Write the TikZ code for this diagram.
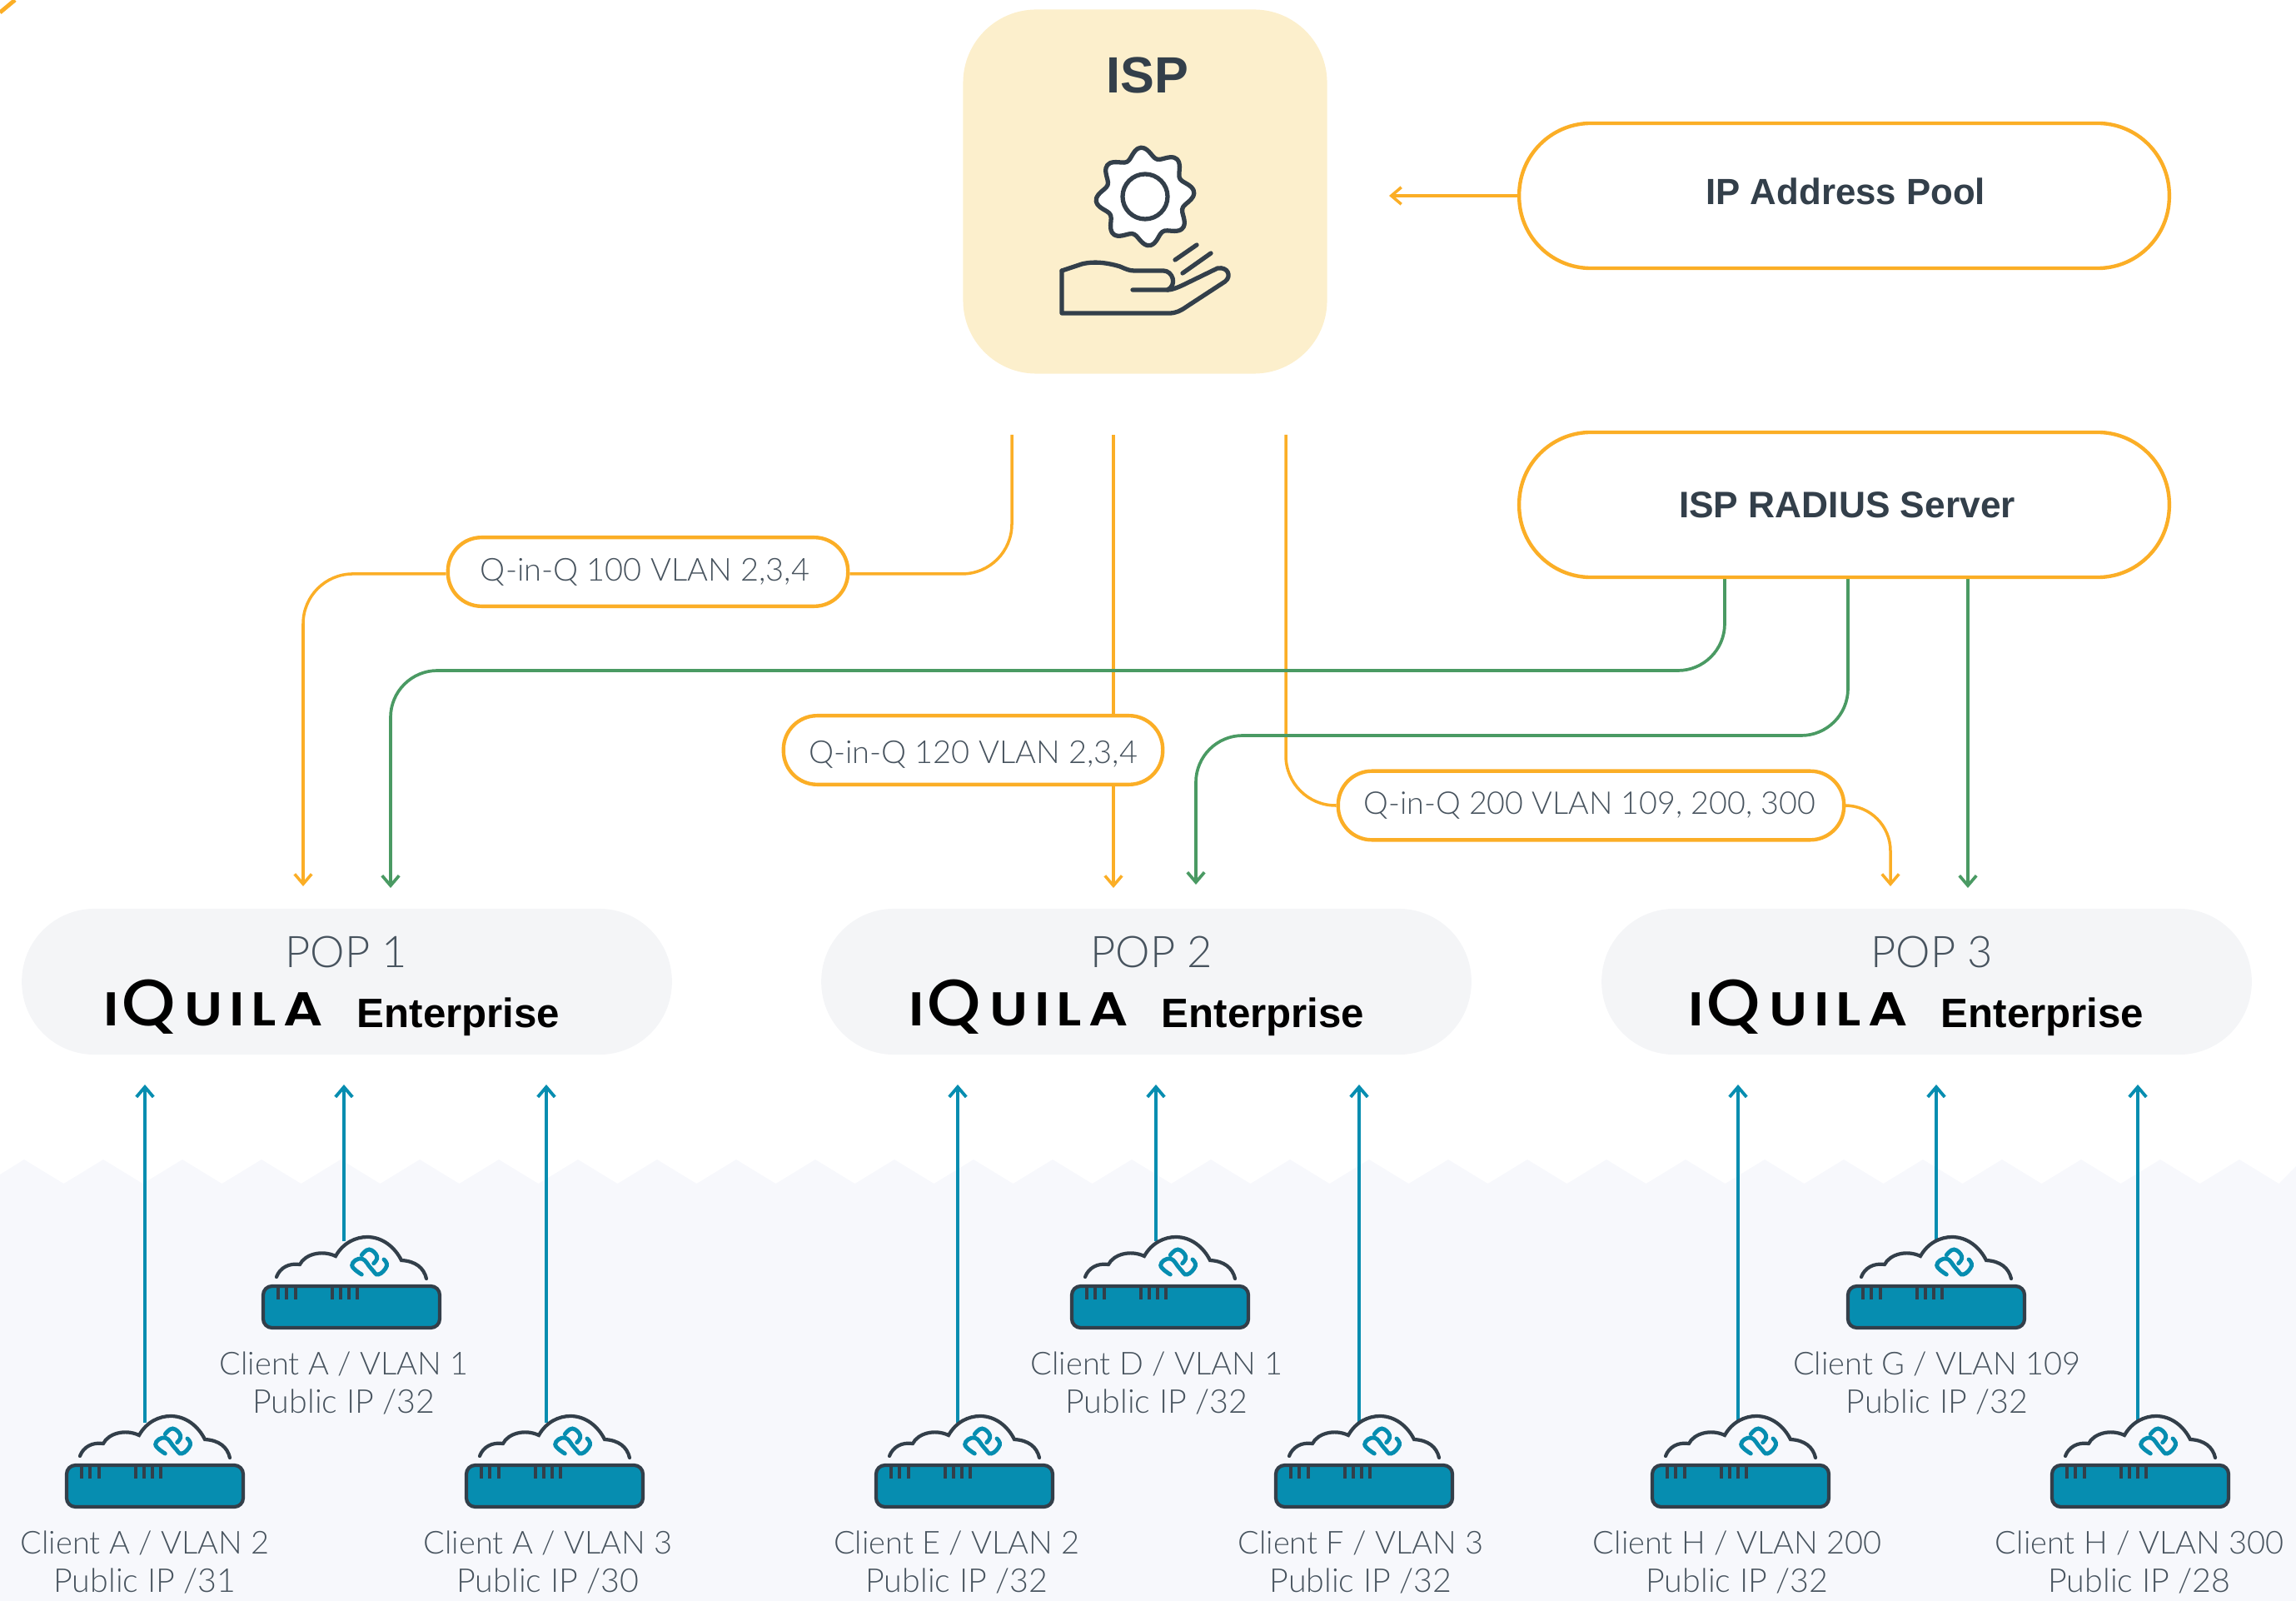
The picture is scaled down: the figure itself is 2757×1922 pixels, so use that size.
\documentclass[tikz,border=0pt]{standalone}
\usepackage{fontspec}
\usetikzlibrary{arrows.meta}
\setmainfont{Lato}
\newfontfamily\lightf{Lato Light}
\newfontfamily\boldf{Liberation Sans}[BoldFont=* Bold]
\newfontfamily\logof{Poppins SemiBold}[FakeStretch=1.16]
\newfontfamily\logoq{Poppins Medium}[FakeStretch=1.04]
\definecolor{orangeC}{HTML}{FBAE26}
\definecolor{greenC}{HTML}{4A9A63}
\definecolor{tealC}{HTML}{068DB0}
\definecolor{darkC}{HTML}{333F4A}
\definecolor{textC}{HTML}{47535E}
\definecolor{ispC}{HTML}{FCEFCC}
\definecolor{popC}{HTML}{F4F5F7}
\definecolor{groundC}{HTML}{F7F8FC}
\pgfdeclarelayer{groundlayer}
\pgfdeclarelayer{linelayer}
\pgfsetlayers{groundlayer,linelayer,main}
\newcommand\lgl[2]{\makebox[0pt][l]{\hspace{#1}#2}}
\newcommand\iquila{{\logof\fontsize{16.2}{16.2}\selectfont\lgl{0pt}{I}\lgl{6.3pt}{\logoq\fontsize{22.4}{23}\selectfont Q}\lgl{27.5pt}{U}\lgl{43pt}{I}\lgl{50.4pt}{L}\lgl{61.5pt}{A}\hspace{75pt}}}
\newcommand\pubip[1]{{\fontsize{11.2}{12.8}\selectfont #1}}
\tikzset{
  orangeline/.style={draw=orangeC,line width=1pt,-{Straight Barb[length=3.4pt,width=5.8pt]}},
  greenline/.style={draw=greenC,line width=1.05pt,-{Straight Barb[length=3.4pt,width=5.8pt]}},
  tealline/.style={draw=tealC,line width=1.1pt,-{Straight Barb[length=3.4pt,width=5.8pt]}},
  pillbox/.style={draw=orangeC,line width=1.25pt,fill=white,rounded corners=24.5pt,minimum width=222pt,minimum height=49.5pt,inner sep=0pt,font=\boldf\bfseries\fontsize{12.6}{15}\selectfont,text=darkC},
  vlanbox/.style={draw=orangeC,line width=1.25pt,fill=white,rounded corners=11.5pt,minimum height=23.5pt,inner sep=0pt,font=\lightf\fontsize{10.8}{13}\selectfont,text=textC},
  popbox/.style={fill=popC,rounded corners=24.8pt,minimum width=222pt,minimum height=49.8pt,inner sep=0pt},
  poptext/.style={inner sep=0pt,font=\lightf\fontsize{14.9}{16}\selectfont,text=textC,anchor=base},
  enttext/.style={inner sep=0pt,font=\boldf\bfseries\fontsize{14}{15}\selectfont,text=black,anchor=base west},
  logotext/.style={inner sep=0pt,anchor=base west,text=black},
  clienttext/.style={inner sep=0pt,align=center,font=\lightf\fontsize{10.8}{12.8}\selectfont,text=textC,anchor=base},
  icon/.style={draw=darkC,line width=1.5pt,line cap=round,line join=round},
  device/.pic={
    \draw[draw=darkC,line width=1.2pt,line cap=round]
      (18,-9) .. controls (22,-20) and (33,-26) .. (46,-24)
      .. controls (52,-36) and (72,-42) .. (89,-34)
      .. controls (98,-50) and (113,-57) .. (127,-57)
      .. controls (145,-57) and (160,-45) .. (168,-29)
      .. controls (185,-28) and (195,-20) .. (198,-7);
    \draw[draw=tealC,line width=1.4pt,line cap=round] plot[smooth,tension=0.8] coordinates {(120.3,-12) (108.7,-23) (120.3,-31) (132,-18.7) (140.3,-12) (150.3,-22) (147,-30)};
    \draw[draw=tealC,line width=1.4pt,line cap=round] plot[smooth,tension=0.8] coordinates {(120.3,-35.3) (129.3,-42) (138.7,-33.7) (134.7,-25.3)};
    \draw[draw=darkC,line width=1.2pt,fill=tealC,rounded corners=3pt] (2,2) rectangle (214,52);
    \foreach \tx in {20,30,41,85,95,105,115}
      \draw[draw=darkC,line width=0.9pt] (\tx,0) -- (\tx,18);
  }
}
\begin{document}
\begin{tikzpicture}[x=0.01cm,y=-0.01cm]
\useasboundingbox (0,0) rectangle (2757,1922);
\begin{pgfonlayer}{groundlayer}
\fill[groundC] (0,1410) -- (29,1392) -- (76.5,1421)
  \foreach \k in {1,...,28}{ -- ({29+95*\k},1392) -- ({76.5+95*\k},1421) } -- (2757,1400) -- (2757,1922) -- (0,1922) -- cycle;
\draw[draw=orangeC,line width=1.4pt] (0,15) -- (18,0);
\end{pgfonlayer}
% ISP
\node[fill=ispC,rounded corners=25pt,minimum width=124.3pt,minimum height=124.3pt,inner sep=0pt] (isp) at (1375,230) {};
\node[inner sep=0pt,anchor=base,font=\boldf\bfseries\fontsize{17.4}{20}\selectfont,text=darkC] (isptitle) at (1378,112) {ISP};
\draw[icon,fill=white,smooth,samples=96,domain=0:360] plot ({1375+(53+6*cos(8*(\x-95)))*cos(\x)},{236-(53+6*cos(8*(\x-95)))*sin(\x)}) -- cycle;
\draw[icon] (1375,236) circle (27);
\draw[icon] (1275,325) -- (1275,376) -- (1404,376) .. controls (1412,376) and (1418,373) .. (1425,368)
  -- (1471,338) .. controls (1479,332) and (1475,320) .. (1462,322) -- (1425,340)
  .. controls (1417,344) and (1408,348) .. (1402,348) -- (1360,348);
\draw[icon] (1275,325) -- (1299,317) .. controls (1315,313) and (1332,316) .. (1345,320) .. controls (1352,323) and (1356,325) .. (1362,325) -- (1397,325) .. controls (1408,325) and (1414,342) .. (1402,348);
\draw[icon] (1411,312) -- (1437,294);
\draw[icon] (1420,328) -- (1454,304);
% pills
\node[pillbox] (pool) at (2214.5,235) {\raisebox{2.8pt}{\fontsize{12.45}{15}\selectfont\hspace*{1pt}IP Address Pool}};
\node[pillbox] (radius) at (2214.5,606) {\hspace*{2pt}ISP RADIUS Server};
% pops
\node[popbox] (pop1) at (416.5,1178.5) {};
\node[popbox] (pop2) at (1376.5,1178.5) {};
\node[popbox] (pop3) at (2313.5,1178.5) {};
\node[poptext] (p1t) at (416,1161) {POP 1};
\node[poptext] (p2t) at (1383,1161) {POP 2};
\node[poptext] (p3t) at (2320,1161) {POP 3};
\node[logotext] (l1) at (122,1231) {\iquila};
\node[logotext] (l2) at (1089,1231) {\iquila};
\node[logotext] (l3) at (2025,1231) {\iquila};
\node[enttext] (e1) at (428,1233) {Enterprise};
\node[enttext] (e2) at (1394,1233) {Enterprise};
\node[enttext] (e3) at (2330,1233) {Enterprise};
% free ends
\coordinate (t1) at (1215,522);
\coordinate (t2) at (1337,522);
\coordinate (t3) at (1544,522);
\coordinate (in1o) at (364,1064);
\coordinate (in1g) at (469,1066);
\coordinate (in2o) at (1337,1066);
\coordinate (in2g) at (1436,1062);
\coordinate (in3o) at (2270,1064);
\coordinate (in3g) at (2363,1066);
\coordinate (poolend) at (1668,235);
\coordinate (g1) at (2071,693);
\coordinate (g2) at (2219,693);
\coordinate (g3) at (2363,693);
% Q labels
\node[vlanbox,minimum width=136.6pt] (q100) at (778,686.5) {\hspace*{-2pt}Q-in-Q 100 VLAN 2,3,4};
\node[vlanbox,minimum width=129.5pt] (q120) at (1168.5,900.5) {\rule{0pt}{10.5pt}Q-in-Q 120 VLAN 2,3,4};
\node[vlanbox,minimum width=172.7pt] (q200) at (1910.5,967) {\fontsize{10.7}{13}\selectfont Q-in-Q 200 VLAN 109, 200, 300\hspace*{1pt}};
% connectors
\begin{pgfonlayer}{linelayer}
\draw[orangeline] (pool.west) -- (poolend);
\draw[orangeline,arrows=-,rounded corners=17pt] (t1) |- ([yshift=-0.7pt]q100.east);
\draw[orangeline,rounded corners=17pt] ([yshift=-0.7pt]q100.west) -| (in1o);
\draw[orangeline] (t2) -- (in2o);
\draw[orangeline,arrows=-,rounded corners=17pt] (t3) |- (q200.west);
\draw[orangeline,rounded corners=15.5pt] (q200.east) -| (in3o);
\draw[greenline,rounded corners=16pt] (g1) |- (1500,805) -| (in1g);
\draw[greenline,rounded corners=16pt] (g2) |- (1700,883) -| (in2g);
\draw[greenline] (g3) -- (in3g);
\end{pgfonlayer}
% devices and clients
\newcommand\client[8]{%
  \coordinate (#1top) at (#4,1302);
  \coordinate (#1bot) at (#4,#5);
  \begin{pgfonlayer}{linelayer}\draw[tealline] (#1bot) -- (#1top);\end{pgfonlayer}
  \pic at (#2,#3) {device};
  \node[clienttext] (#1lab) at (#6,#7) {#8};
}
\client{ca}{314}{1542}{413}{1490}{413}{1696}{Client A / VLAN 1\\\pubip{Public IP /32}}
\client{cb}{78}{1757}{174}{1708}{174}{1911}{Client A / VLAN 2\\\pubip{Public IP /31}}
\client{cc}{558}{1757}{656}{1708}{658}{1911}{Client A / VLAN 3\\\pubip{Public IP /30}}
\client{cd}{1285}{1542}{1388}{1490}{1389}{1696}{Client D / VLAN 1\\\pubip{Public IP /32}}
\client{ce}{1050}{1757}{1150}{1708}{1149}{1911}{Client E / VLAN 2\\\pubip{Public IP /32}}
\client{cf}{1530}{1757}{1632}{1708}{1634}{1911}{Client F / VLAN 3\\\pubip{Public IP /32}}
\client{cg}{2217}{1542}{2325}{1490}{2326}{1696}{Client G / VLAN 109\\\pubip{Public IP /32}}
\client{ch}{1982}{1757}{2087}{1708}{2086}{1911}{Client H / VLAN 200\\\pubip{Public IP /32}}
\client{ci}{2462}{1757}{2567}{1708}{2569}{1911}{Client H / VLAN 300\\\pubip{Public IP /28}}
\end{tikzpicture}
\end{document}
